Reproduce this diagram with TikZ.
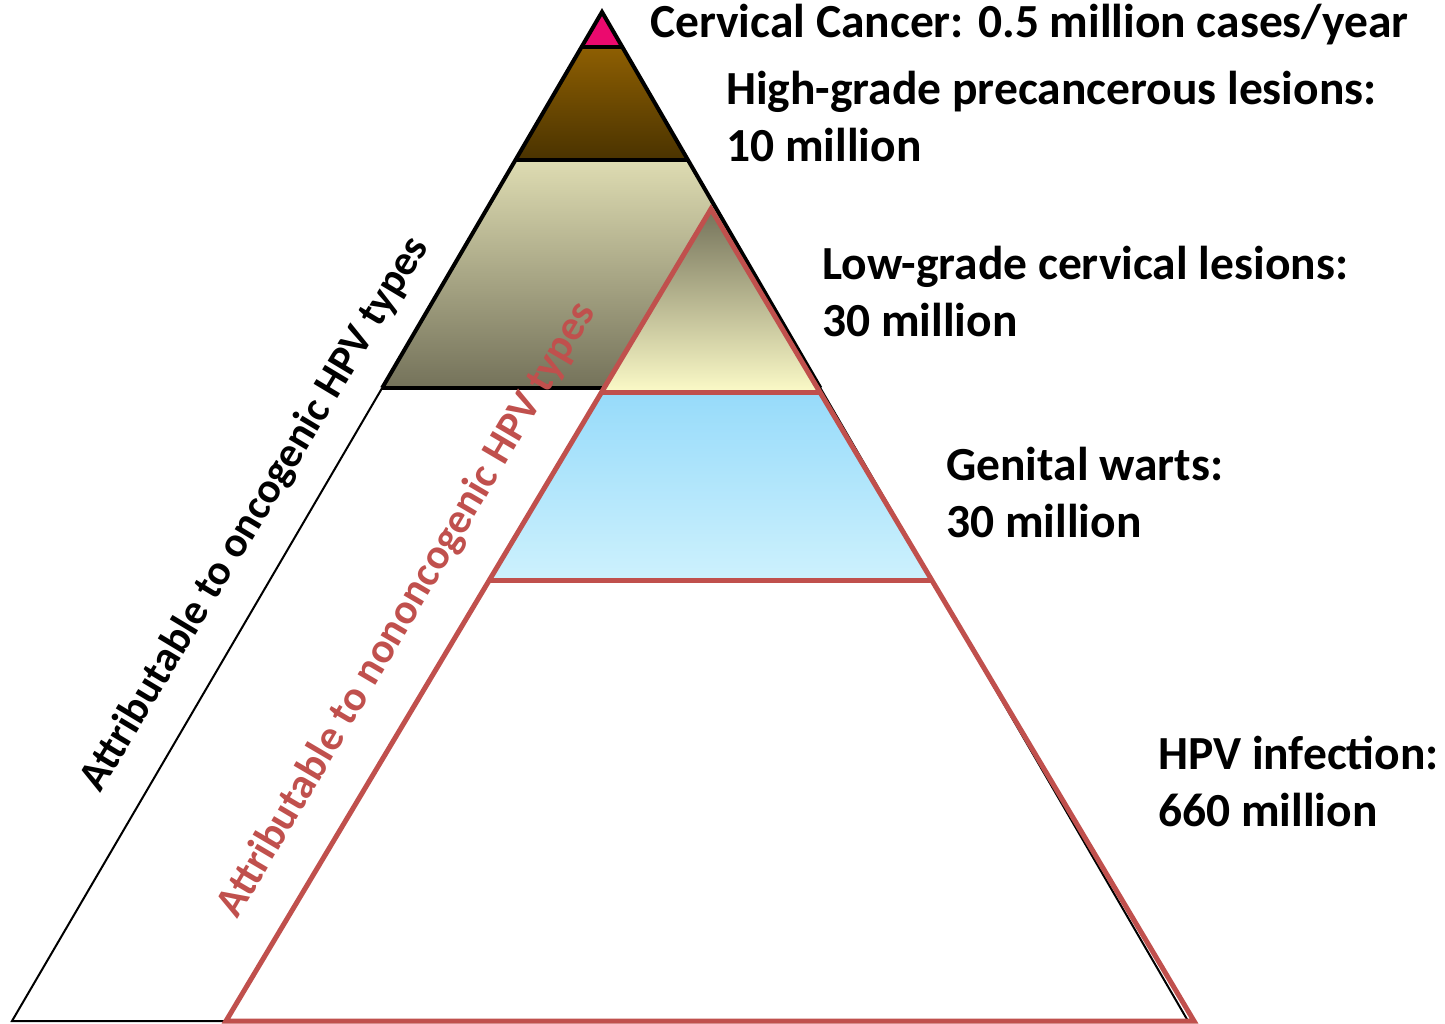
\documentclass[tikz,border=0pt]{standalone}
\usepackage{fontspec}
\setmainfont{Carlito}
\usetikzlibrary{calc}
\definecolor{cancer}{HTML}{EB0A6E}
\definecolor{browntop}{HTML}{8E5F02}
\definecolor{brownbot}{HTML}{4A3300}
\definecolor{olivetop}{HTML}{DEDCB2}
\definecolor{olivebot}{HTML}{74725A}
\definecolor{yellowbot}{HTML}{FCFBC8}
\definecolor{bluetop}{HTML}{97DBFA}
\definecolor{bluebot}{HTML}{CDF1FD}
\definecolor{lowred}{HTML}{C0504D}

\begin{document}
\begin{tikzpicture}[x=1pt, y=-1pt,
    every node/.style={font=\fontsize{47.5}{57}\selectfont\bfseries, inner sep=0pt},
    label/.style={anchor=base west, align=left},
    side label/.style={font=\fontsize{42.5}{50}\selectfont\bfseries},
    edge/.style={line width=4pt, line join=miter},
    thin edge/.style={line width=2pt, line join=miter},
    red edge/.style={draw=lowred, line width=5pt, line join=miter}]

  \useasboundingbox (0,0) rectangle (1445,1024);

  % outer (oncogenic) and inner (nononcogenic) triangles
  \coordinate (apex) at (602,12);
  \coordinate (bl) at (12,1021);
  \coordinate (br) at (1188,1021);
  \coordinate (rapex) at (711,209);
  \coordinate (rbl) at (226,1021);
  \coordinate (rbr) at (1194,1021);

  \coordinate (c1l) at ($(apex)!0.0347!(bl)$);
  \coordinate (c1r) at ($(apex)!0.0347!(br)$);
  \coordinate (c2l) at ($(apex)!0.1467!(bl)$);
  \coordinate (c2r) at ($(apex)!0.1467!(br)$);
  \coordinate (c3l) at ($(apex)!0.3727!(bl)$);
  \coordinate (c3r) at ($(apex)!0.3727!(br)$);

  \coordinate (r1l) at ($(rapex)!0.2266!(rbl)$);
  \coordinate (r1r) at ($(rapex)!0.2266!(rbr)$);
  \coordinate (r2l) at ($(rapex)!0.4569!(rbl)$);
  \coordinate (r2r) at ($(rapex)!0.4569!(rbr)$);

  \fill[cancer] (apex) -- (c1r) -- (c1l) -- cycle;
  \fill[top color=browntop, bottom color=brownbot] (c1l) -- (c1r) -- (c2r) -- (c2l) -- cycle;
  \fill[top color=olivetop, bottom color=olivebot] (c2l) -- (c2r) -- (c3r) -- (c3l) -- cycle;

  \draw[thin edge] (c3l) -- (bl) -- (br) -- (c3r);
  \draw[edge] (c3l) -- (apex) -- (c3r);
  \draw[edge] (c1l) -- (c1r) (c2l) -- (c2r) (c3l) -- (c3r);

  \fill[top color=olivebot, middle color=olivetop, bottom color=yellowbot] (rapex) -- (r1r) -- (r1l) -- cycle;
  \fill[top color=bluetop, bottom color=bluebot] (r1l) -- (r1r) -- (r2r) -- (r2l) -- cycle;
  \draw[red edge] (rapex) -- (rbr) -- (rbl) -- cycle;
  \draw[red edge] (r1l) -- (r1r) (r2l) -- (r2r);

  \node[label] (cancertxt) at (650,38) {Cervical Cancer: 0.5 million cases/year};
  \node[label] (highgrade) at (726,162) {High-grade precancerous lesions:\\10 million};
  \node[label] (lowgrade) at (822,336) {Low-grade cervical lesions:\\30 million};
  \node[label] (warts) at (946,537) {Genital warts:\\30 million};
  \node[label] (infection) at (1158,826) {HPV infection:\\660 million};

  \node[side label, rotate=59] (onco) at (255,514) {Attributable to oncogenic HPV types};
  \node[side label, rotate=59.5, text=lowred] (nononco) at (407,610) {Attributable to nononcogenic HPV types};
\end{tikzpicture}
\end{document}
